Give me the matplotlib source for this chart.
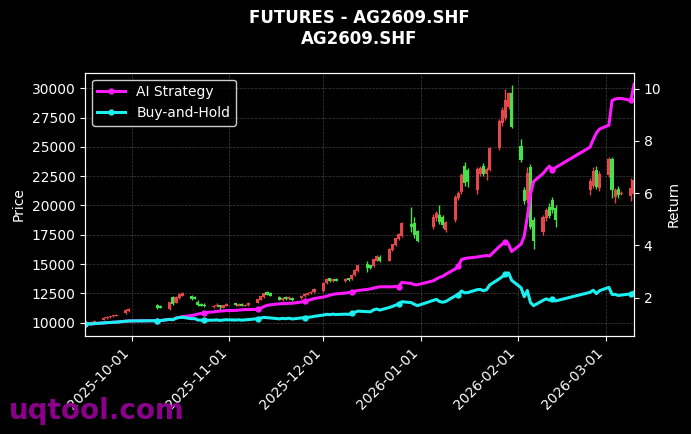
import numpy as np
import pandas as pd
import matplotlib
matplotlib.use('Agg')
import matplotlib.pyplot as plt
import matplotlib.dates as mdates

# trading days (SHFE calendar, holidays removed)
holidays = ['2025-10-01', '2025-10-02', '2025-10-03', '2025-10-06', '2025-10-07', '2025-10-08',
            '2026-01-01', '2026-01-02',
            '2026-02-16', '2026-02-17', '2026-02-18', '2026-02-19', '2026-02-20', '2026-02-23']
dates = pd.bdate_range('2025-09-16', '2026-03-10')
dates = dates[~dates.isin(pd.to_datetime(holidays))]

# OHLC
opens = [10050, 10000, 10050, 10000, 10250, 10400, 10450, 10550, 10600, 10800, 11000,
         11500, 11400, 11150, 12200, 11700, 12100, 12300, 12300, 12200, 11800, 11600, 11550,
         11350, 11400, 11500, 11300, 11450, 11650, 11450, 11600, 11450, 11500,
         11700, 11950, 12200, 12600, 12500, 12200, 11900, 12200, 12000, 12150,
         12100, 12250, 12400, 12500, 12600, 12700, 13350, 13800, 13550, 13750,
         13550, 13800, 13700, 14050, 14400, 15000, 14900, 14800, 15300, 15600,
         15300, 16200, 16600, 17100, 17400, 18450, 18500, 17800,
         18200, 18900, 19200, 19000, 17900, 18800, 20650, 21150, 23400, 23000,
         21300, 22700, 23400, 22700, 23000, 24900, 27000, 27500, 28400, 29550,
         25100, 21300, 20500, 23250, 18800, 17700, 18900, 19900, 20500, 19800,
         21300, 21700, 23000, 21500, 22600, 24000, 20700, 21400, 21000, 20800, 21000]
closes = [10000, 10050, 10000, 10150, 10400, 10500, 10550, 10650, 10700, 11050, 11150,
          11250, 11300, 11750, 11600, 12200, 12450, 12550, 12000, 12050, 11500, 11450, 11400,
          11450, 11550, 11350, 11500, 11600, 11500, 11600, 11450, 11550, 11650,
          12000, 12250, 12500, 12400, 12300, 11950, 12150, 12000, 12200, 11900,
          12300, 12450, 12550, 12650, 12900, 13400, 13700, 13550, 13750, 13600,
          13750, 13650, 14100, 14500, 14900, 14700, 14650, 15400, 15700, 15300,
          16300, 16700, 17200, 17600, 18500, 18150, 17500, 17000,
          19000, 19400, 18600, 18300, 18600, 20700, 21050, 22600, 21900, 22000,
          23100, 23200, 22700, 23100, 24900, 27200, 28100, 28950, 29550, 26700,
          23850, 20400, 22800, 18200, 17000, 19000, 19600, 19100, 19600, 18800,
          22100, 22900, 21600, 22700, 24000, 21300, 21300, 20900, 21050, 21500, 22200]
highs = [10150, 10100, 10150, 10200, 10450, 10550, 10600, 10700, 10750, 11150, 11250,
         11600, 11500, 11800, 12250, 12250, 12500, 12600, 12400, 12300, 11900, 11700, 11650,
         11500, 11650, 11550, 11550, 11700, 11700, 11650, 11650, 11600, 11750,
         12050, 12300, 12550, 12700, 12600, 12300, 12200, 12250, 12250, 12200,
         12350, 12500, 12600, 12700, 12950, 13450, 13800, 13850, 13800, 13800,
         13800, 13850, 14150, 14550, 14950, 15300, 14950, 15450, 15750, 15750,
         16350, 16750, 17250, 17650, 18600, 19900, 19000, 17900,
         19300, 19500, 20000, 19200, 18700, 20900, 21200, 22800, 23700, 23200,
         23300, 23400, 23600, 23300, 25000, 27400, 28400, 29900, 29700, 30300,
         25700, 21600, 23300, 23500, 19000, 19200, 19800, 20200, 20700, 20000,
         22300, 23300, 23400, 22900, 24100, 24100, 21500, 21700, 21200, 22300, 22400]
lows = [9950, 9900, 9950, 9950, 10200, 10350, 10400, 10500, 10550, 10750, 10950,
        11150, 11250, 11050, 11500, 11650, 12050, 12250, 11950, 12000, 11450, 11400, 11350,
        11300, 11350, 11100, 11250, 11400, 11450, 11400, 11400, 11400, 11450,
        11650, 11900, 12150, 12350, 12250, 11900, 11850, 11950, 11950, 11850,
        12050, 12200, 12350, 12450, 12550, 12650, 13300, 13500, 13500, 13550,
        13500, 13600, 13650, 14000, 14350, 14300, 14550, 14750, 15250, 15200,
        15250, 16150, 16550, 17050, 17350, 17700, 17200, 16900,
        18000, 18700, 18400, 18100, 17700, 18600, 20500, 21000, 21700, 21600,
        21000, 22500, 22500, 22200, 22900, 24700, 26800, 27300, 28200, 26600,
        23700, 20100, 20200, 18000, 16300, 17500, 18700, 18900, 19400, 18200,
        20900, 21500, 21400, 21200, 22400, 20600, 20200, 20600, 20900, 20400, 20460]

# AI strategy cumulative return
strategy = [1.000, 1.005, 1.000, 1.015, 1.040, 1.050, 1.055, 1.065, 1.070, 1.105, 1.115,
            1.125, 1.130, 1.175, 1.170, 1.225, 1.250, 1.280, 1.320, 1.350, 1.380, 1.400, 1.430,
            1.460, 1.480, 1.490, 1.500, 1.510, 1.520, 1.530, 1.540, 1.550, 1.550,
            1.560, 1.600, 1.660, 1.710, 1.730, 1.770, 1.780, 1.780, 1.790, 1.790,
            1.840, 1.870, 1.900, 1.930, 1.970, 2.030, 2.060, 2.100, 2.130, 2.150,
            2.180, 2.200, 2.220, 2.250, 2.280, 2.320, 2.340, 2.370, 2.400, 2.420,
            2.420, 2.420, 2.430, 2.430, 2.590, 2.550, 2.500, 2.500,
            2.650, 2.720, 2.780, 2.820, 2.900, 3.100, 3.200, 3.460, 3.500, 3.520,
            3.560, 3.580, 3.600, 3.620, 3.600, 3.950, 4.050, 4.150, 4.050, 3.770,
            4.050, 4.350, 5.100, 5.950, 6.450, 6.750, 6.900, 7.030, 6.900, 6.980,
            7.760, 8.050, 8.300, 8.450, 8.600, 9.540, 9.600, 9.620, 9.620, 9.550, 10.150]

opens, closes, highs, lows = map(np.array, (opens, closes, highs, lows))
buy_hold = closes / closes[0]

bg = 'black'
fig = plt.figure(figsize=(6.91, 4.34), dpi=100, facecolor=bg)
ax = fig.add_axes([0.123, 0.226, 0.7945, 0.6065])
ax.set_facecolor(bg)

x = mdates.date2num(dates)
up = closes >= opens
col = np.where(up, '#e2484b', '#48e048')
ax.vlines(x, lows, highs, colors=col, linewidth=1, zorder=2)
body = np.maximum(np.abs(closes - opens), 30)
ax.bar(x, body, bottom=np.minimum(opens, closes), width=1.0, color=col, zorder=3)

ax2 = ax.twinx()
mk = len(dates) // 10
ax2.plot(dates, strategy, color='#ff1aff', lw=2.2, marker='o', markersize=3.5,
         markevery=mk, label='AI Strategy')
ax2.plot(dates, buy_hold, color='#1af0f0', lw=2.2, marker='o', markersize=3.5,
         markevery=mk, label='Buy-and-Hold')

ax.set_xlim(x[0], x[-1])
ax.xaxis.set_major_locator(mdates.MonthLocator())
ax.xaxis.set_major_formatter(mdates.DateFormatter('%Y-%m-%d'))
plt.setp(ax.get_xticklabels(), rotation=45, ha='right')

ax.grid(True, color='gray', linestyle='--', linewidth=0.5, alpha=0.5)
for a in (ax, ax2):
    a.tick_params(colors='white', labelsize=10)
    for s in a.spines.values():
        s.set_color('white')
ax.set_ylabel('Price', color='white')
ax2.set_ylabel('Return', color='white')
ax.set_title('FUTURES - AG2609.SHF\nAG2609.SHF', color='white', fontsize=12,
             fontweight='bold', pad=21)

leg = ax2.legend(loc='upper left', facecolor='black', edgecolor='white', fontsize=10)
for t in leg.get_texts():
    t.set_color('white')

fig.text(0.013, 0.035, 'uqtool.com', color='#8a008a', fontsize=20, fontweight='bold')

fig.savefig('out.png', dpi=100, facecolor=bg)
